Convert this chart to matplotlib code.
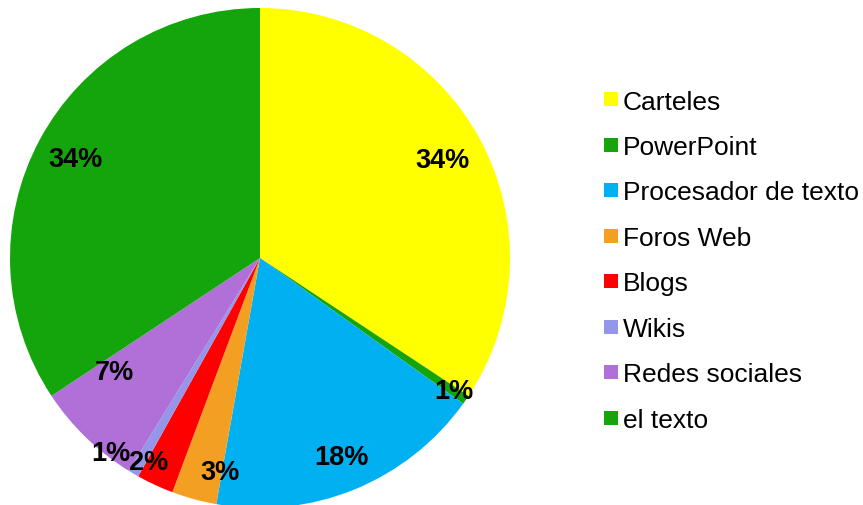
import numpy as np
import matplotlib
matplotlib.use("Agg")
import matplotlib.pyplot as plt
from matplotlib.patches import Rectangle

# datos (porcentajes)
categorias = ["Carteles", "PowerPoint", "Procesador de texto", "Foros Web",
              "Blogs", "Wikis", "Redes sociales", "el texto"]
valores = [34.3, 0.6, 17.9, 2.9, 2.4, 0.7, 6.9, 34.3]
colores = ["#FFFF00", "#13A50B", "#00B0F0", "#F39F22",
           "#FF0000", "#9595EA", "#B16FD8", "#13A50B"]

# posicion de las etiquetas (distancia relativa al radio, desplazamiento en grados)
dist_etiqueta = [0.83, 0.94, 0.86, 0.87, 0.93, 0.98, 0.74, 0.84]
giro_etiqueta = [0, 0, 0, -4.6, 3.8, 7, 8, 0]

plt.rcParams['font.family'] = ['Liberation Sans', 'DejaVu Sans']

W, H = 863, 506
fig = plt.figure(figsize=(W / 100, H / 100), dpi=100)
cx, cy, r = 260, 259, 250
ax = fig.add_axes([(cx - r) / W, (H - cy - r) / H, 2 * r / W, 2 * r / H])

wedges, _ = ax.pie(valores, colors=colores, startangle=90, counterclock=False,
                   radius=1, wedgeprops=dict(linewidth=0))
ax.set_xlim(-1, 1)
ax.set_ylim(-1, 1)
ax.set_aspect('auto')
ax.axis('off')

total = sum(valores)
for w, v, d, g in zip(wedges, valores, dist_etiqueta, giro_etiqueta):
    ang = np.deg2rad((w.theta1 + w.theta2) / 2 - g)
    ax.text(d * np.cos(ang), d * np.sin(ang), "%.0f%%" % (100 * v / total),
            ha='center', va='center', fontsize=19.5, fontweight='bold', color='black')

# leyenda a la derecha
y0, paso = 100, 45.5
for i, (cat, col) in enumerate(zip(categorias, colores)):
    y = y0 + i * paso
    fig.patches.append(Rectangle((604 / W, (H - y - 7) / H), 14 / W, 14 / H,
                                 transform=fig.transFigure, facecolor=col,
                                 edgecolor='none'))
    fig.text(623 / W, (H - y) / H, cat, ha='left', va='center_baseline',
             fontsize=19, color='black')

fig.savefig("out.png", dpi=100)
